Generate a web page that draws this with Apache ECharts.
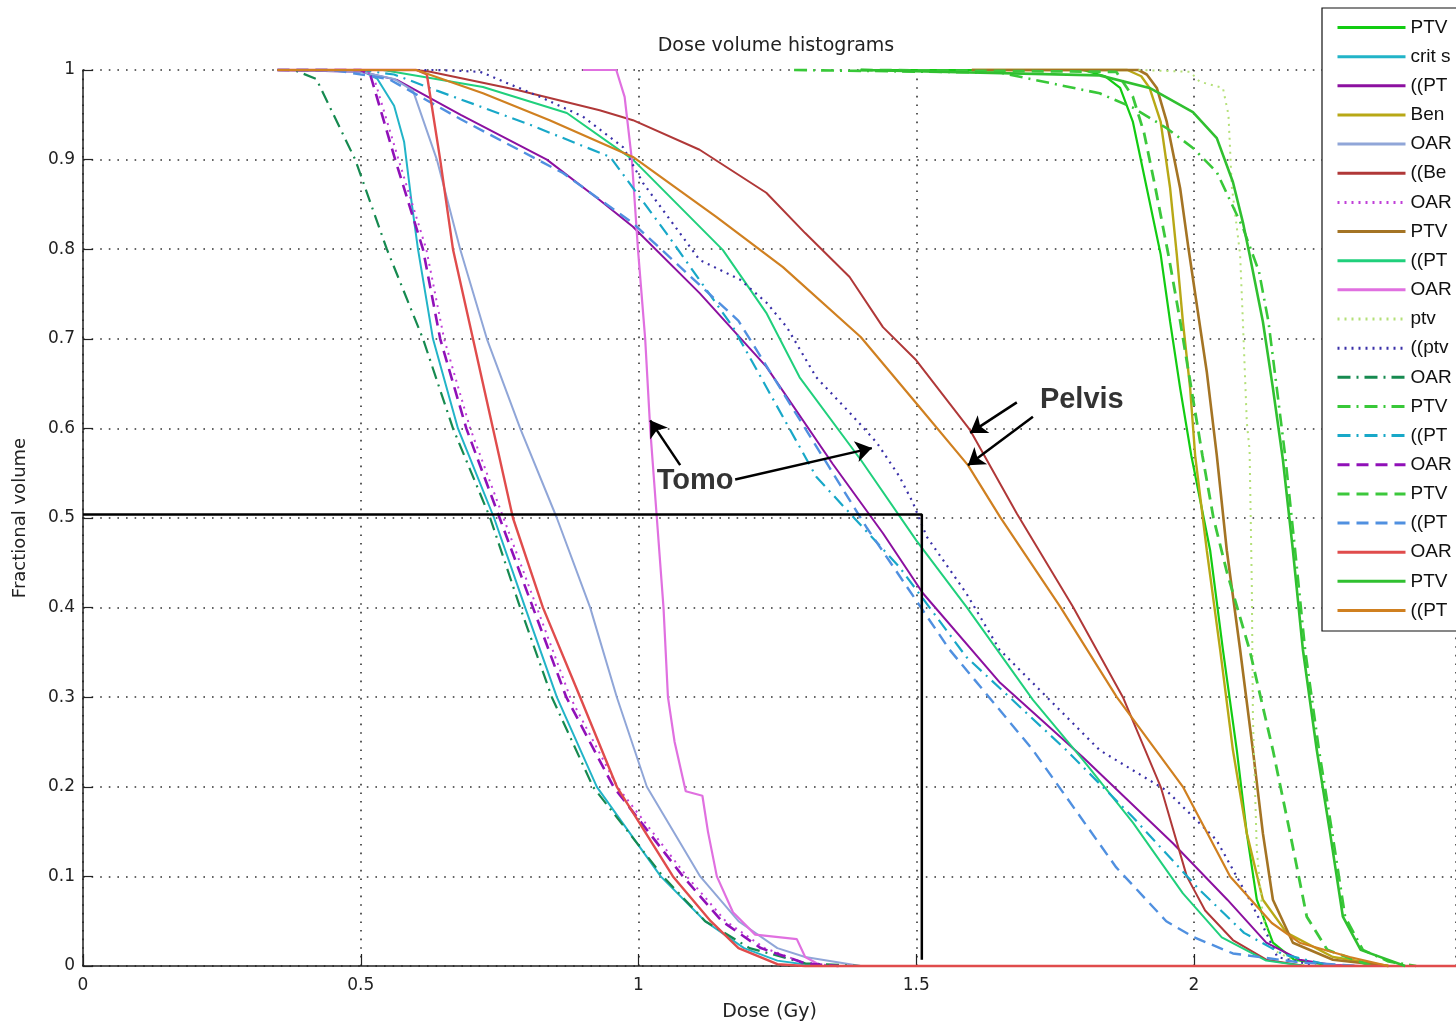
<!DOCTYPE html>
<html><head><meta charset="utf-8">
<script src="https://cdn.jsdelivr.net/npm/echarts@6/dist/echarts.min.js"></script>
<style>html,body{margin:0;padding:0;background:#fff}#c{width:1456px;height:1027px}</style>
</head><body><div id="c"></div>
<script>
// ---------- DATA ----------
const seriesNames = [
  'PTV Tomo', 'crit spinal cord', '((PTV)) Tomo', 'Ben Tomo', 'OAR 1', '((Ben)) Pelvis', 'OAR 2',
  'PTV Pelvis', '((PTV)) Pelvis', 'OAR 3', 'ptv', '((ptv Pelvis))', 'OAR 4', 'PTV 2',
  '((PTV 2))', 'OAR 5', 'PTV 3', '((PTV 3))', 'OAR 6', 'PTV 4', '((PTV 4))'
];
const xTicks = [0, 0.5, 1, 1.5, 2];
const xMax = 2.4716;
const yTicks = [0, 0.1, 0.2, 0.3, 0.4, 0.5, 0.6, 0.7, 0.8, 0.9, 1];

const s01 = [[1.40,1],[1.80,1],[1.84,0.993],[1.867,0.98],[1.89,0.942],[1.915,0.868],[1.94,0.794],[1.957,0.719],[1.975,0.645],[1.995,0.57],[2.029,0.464],[2.052,0.353],[2.077,0.241],[2.095,0.148],[2.113,0.074],[2.142,0.026],[2.18,0.007],[2.25,0]];
const s02 = [[0.35,1],[0.5,1],[0.53,0.99],[0.56,0.96],[0.578,0.92],[0.592,0.85],[0.603,0.8],[0.63,0.7],[0.675,0.6],[0.74,0.5],[0.796,0.4],[0.853,0.3],[0.925,0.2],[1.04,0.1],[1.12,0.05],[1.19,0.02],[1.25,0.006],[1.32,0]];
const s03 = [[0.35,1],[0.5,0.998],[0.565,0.989],[0.68,0.95],[0.835,0.9],[0.93,0.855],[0.99,0.825],[1.11,0.751],[1.23,0.669],[1.35,0.56],[1.44,0.483],[1.512,0.416],[1.651,0.316],[1.8,0.233],[1.962,0.137],[2.06,0.074],[2.13,0.026],[2.19,0.007],[2.25,0.001],[2.3,0]];
const s04 = [[1.6,1],[1.88,1],[1.905,0.993],[1.92,0.98],[1.94,0.942],[1.957,0.868],[1.969,0.794],[1.98,0.719],[1.993,0.645],[2.002,0.57],[2.023,0.464],[2.047,0.353],[2.07,0.241],[2.095,0.148],[2.124,0.074],[2.167,0.037],[2.25,0.01],[2.35,0]];
const s05 = [[0.35,1],[0.5,0.998],[0.56,0.99],[0.594,0.977],[0.637,0.9],[0.679,0.8],[0.727,0.7],[0.787,0.6],[0.853,0.5],[0.913,0.4],[0.961,0.3],[1.015,0.2],[1.111,0.1],[1.18,0.05],[1.25,0.02],[1.3,0.01],[1.4,0]];
const s06 = [[0.35,1],[0.6,1],[0.625,0.998],[0.78,0.978],[0.93,0.955],[0.99,0.944],[1.11,0.911],[1.23,0.863],[1.30,0.818],[1.38,0.769],[1.44,0.713],[1.5,0.676],[1.597,0.598],[1.681,0.505],[1.782,0.401],[1.872,0.3],[1.94,0.2],[1.987,0.1],[2.02,0.062],[2.07,0.029],[2.13,0.007],[2.2,0]];
const s07 = [[0.35,1],[0.5,1],[0.522,0.995],[0.568,0.9],[0.618,0.8],[0.65,0.7],[0.697,0.6],[0.757,0.5],[0.817,0.4],[0.877,0.3],[0.962,0.2],[1.087,0.1],[1.157,0.05],[1.227,0.02],[1.3,0.003],[1.36,0]];
const s08 = [[1.6,1],[1.9,1],[1.915,0.995],[1.933,0.98],[1.951,0.942],[1.975,0.868],[1.99,0.801],[2.005,0.738],[2.023,0.663],[2.041,0.57],[2.059,0.464],[2.083,0.353],[2.106,0.241],[2.124,0.148],[2.142,0.074],[2.178,0.026],[2.25,0.007],[2.35,0]];
const s09 = [[0.35,1],[0.54,1],[0.72,0.981],[0.871,0.952],[0.99,0.9],[1.152,0.799],[1.23,0.729],[1.29,0.657],[1.4,0.565],[1.5,0.475],[1.59,0.401],[1.71,0.297],[1.8,0.23],[1.89,0.16],[1.98,0.081],[2.05,0.032],[2.13,0.006],[2.2,0]];
const s10 = [[0.9,1],[0.96,1],[0.975,0.97],[0.988,0.9],[0.999,0.8],[1.012,0.7],[1.021,0.6],[1.033,0.5],[1.045,0.4],[1.053,0.3],[1.065,0.25],[1.085,0.195],[1.115,0.19],[1.125,0.15],[1.141,0.1],[1.17,0.06],[1.21,0.035],[1.285,0.03],[1.3,0.01],[1.33,0]];
const s11 = [[1.9,1],[1.993,0.998],[2.01,0.987],[2.052,0.98],[2.062,0.95],[2.068,0.87],[2.083,0.794],[2.088,0.719],[2.095,0.607],[2.1,0.576],[2.104,0.427],[2.106,0.278],[2.113,0.13],[2.124,0.055],[2.142,0.018],[2.2,0]];
const s12 = [[0.35,1],[0.637,1],[0.715,0.998],[0.823,0.97],[0.9,0.948],[0.972,0.914],[1.008,0.874],[1.11,0.788],[1.183,0.766],[1.231,0.74],[1.267,0.713],[1.32,0.657],[1.381,0.617],[1.429,0.584],[1.47,0.546],[1.494,0.517],[1.519,0.479],[1.59,0.416],[1.65,0.353],[1.74,0.297],[1.83,0.241],[1.95,0.196],[2.04,0.141],[2.1,0.074],[2.13,0.037],[2.15,0.01],[2.22,0]];
const s13 = [[0.35,1],[0.38,1],[0.42,0.99],[0.49,0.9],[0.547,0.8],[0.612,0.7],[0.666,0.6],[0.733,0.5],[0.787,0.4],[0.844,0.3],[0.918,0.2],[1.044,0.1],[1.12,0.05],[1.2,0.02],[1.3,0.003],[1.4,0]];
const s14 = [[1.28,1],[1.651,0.997],[1.83,0.974],[1.89,0.958],[1.951,0.935],[1.998,0.913],[2.041,0.886],[2.088,0.824],[2.117,0.775],[2.134,0.719],[2.149,0.645],[2.164,0.57],[2.182,0.464],[2.2,0.353],[2.225,0.241],[2.249,0.148],[2.272,0.055],[2.304,0.018],[2.35,0.005],[2.4,0]];
const s15 = [[0.35,1],[0.5,1],[0.56,0.995],[0.637,0.977],[0.8,0.94],[0.949,0.903],[1.05,0.818],[1.17,0.713],[1.32,0.546],[1.47,0.445],[1.59,0.345],[1.77,0.241],[1.89,0.166],[2.01,0.085],[2.09,0.037],[2.16,0.013],[2.25,0]];
const s16 = [[0.35,1],[0.5,1],[0.517,0.995],[0.562,0.9],[0.612,0.8],[0.643,0.7],[0.69,0.6],[0.75,0.5],[0.81,0.4],[0.87,0.3],[0.955,0.2],[1.08,0.1],[1.15,0.05],[1.22,0.02],[1.3,0.003],[1.36,0]];
const s17 = [[1.4,1],[1.86,0.998],[1.89,0.97],[1.91,0.93],[1.93,0.87],[1.955,0.79],[1.975,0.72],[1.995,0.645],[2.015,0.57],[2.035,0.5],[2.059,0.44],[2.1,0.353],[2.142,0.241],[2.173,0.148],[2.203,0.055],[2.24,0.018],[2.32,0]];
const s18 = [[0.35,1],[0.45,1],[0.55,0.99],[0.68,0.945],[0.864,0.885],[0.99,0.829],[1.18,0.72],[1.32,0.58],[1.41,0.49],[1.56,0.353],[1.71,0.241],[1.86,0.11],[1.95,0.05],[2.0,0.032],[2.07,0.014],[2.19,0.004],[2.3,0]];
const s19 = [[0.35,1],[0.6,1],[0.619,0.995],[0.643,0.9],[0.666,0.8],[0.702,0.7],[0.738,0.6],[0.774,0.5],[0.828,0.4],[0.895,0.3],[0.961,0.2],[1.062,0.1],[1.13,0.05],[1.18,0.02],[1.25,0.002],[1.3,0],[2.5,0]];
const s20 = [[1.4,1],[1.83,0.994],[1.92,0.98],[1.998,0.953],[2.041,0.924],[2.07,0.875],[2.088,0.83],[2.1,0.794],[2.124,0.719],[2.142,0.645],[2.16,0.565],[2.178,0.464],[2.196,0.353],[2.221,0.241],[2.245,0.148],[2.268,0.055],[2.3,0.018],[2.38,0]];
const s21 = [[0.35,1],[0.6,1],[0.72,0.974],[0.84,0.944],[0.99,0.903],[1.14,0.836],[1.26,0.78],[1.4,0.702],[1.5,0.628],[1.593,0.559],[1.651,0.501],[1.759,0.401],[1.861,0.3],[1.98,0.2],[2.065,0.1],[2.14,0.048],[2.19,0.026],[2.28,0.01],[2.35,0]];
const seriesData = [s01,s02,s03,s04,s05,s06,s07,s08,s09,s10,s11,s12,s13,s14,s15,s16,s17,s18,s19,s20,s21];

// annotation geometry (data coords)
const guideLine = [[0,0.504],[1.51,0.504],[1.51,0.007]];
const arrows = [
  [[1.075,0.559],[1.021,0.609]],
  [[1.174,0.543],[1.42,0.578]],
  [[1.681,0.629],[1.597,0.595]],
  [[1.71,0.613],[1.593,0.559]]
];
const annotTexts = [[1.102,0.541,'Tomo'],[1.798,0.632,'Pelvis']];

// ---------- STYLE ----------
const DOT = [2,5], DASHDOT = [13,6,2,6], DASH = [12,7];
const styles = [
  {c:'#12cc12', t:'solid', w:2.2},
  {c:'#22b4c8', t:'solid', w:2},
  {c:'#8c10a0', t:'solid', w:2},
  {c:'#b8a816', t:'solid', w:2.4},
  {c:'#90a6d8', t:'solid', w:2},
  {c:'#b03838', t:'solid', w:2},
  {c:'#c040d8', t:DOT, w:2},
  {c:'#a47424', t:'solid', w:2.6},
  {c:'#20d07c', t:'solid', w:2},
  {c:'#e070e0', t:'solid', w:2.2},
  {c:'#b4e078', t:DOT, w:2},
  {c:'#3a30a8', t:DOT, w:2.2},
  {c:'#168a50', t:DASHDOT, w:2.2},
  {c:'#38c838', t:DASHDOT, w:2.6},
  {c:'#18a8c8', t:DASHDOT, w:2.2},
  {c:'#9010b8', t:DASH, w:2.6},
  {c:'#3cc83c', t:DASH, w:2.8},
  {c:'#5090e0', t:DASH, w:2.4},
  {c:'#e04c4c', t:'solid', w:2.4},
  {c:'#30c030', t:'solid', w:2.6},
  {c:'#d08020', t:'solid', w:2.2}
];
const FONT = '"DejaVu Sans", Verdana, sans-serif';
const LFONT = '"Liberation Sans", Arial, sans-serif';

const series = seriesData.map((d, i) => ({
  name: seriesNames[i], type: 'line', data: d, symbol: 'none', showSymbol: false,
  clip: false, silent: true,
  lineStyle: {color: styles[i].c, type: styles[i].t, width: styles[i].w},
  itemStyle: {color: styles[i].c}
}));
series.push({
  name: '_guide', type: 'line', data: guideLine, symbol: 'none', clip: false, silent: true, z: 10,
  lineStyle: {color: '#000', width: 2.5, type: 'solid'},
  markLine: {
    silent: true, symbol: ['none','arrow'], symbolSize: 16, animation: false,
    lineStyle: {color: '#000', width: 2.5, type: 'solid'}, label: {show: false},
    data: arrows.map(a => [{coord: a[0]}, {coord: a[1]}])
  }
});
series.push({
  name: '_text', type: 'scatter', data: annotTexts, symbolSize: 1, silent: true, z: 12,
  itemStyle: {color: 'rgba(0,0,0,0)'},
  label: {show: true, position: 'inside', formatter: p => p.data[2],
    color: '#000', fontWeight: 'bold', fontSize: 29, fontFamily: LFONT}
});

const chart = echarts.init(document.getElementById('c'), null, {renderer: 'canvas'});
chart.setOption({
  animation: false,
  backgroundColor: '#fff',
  grid: {left: 83, top: 70, bottom: 61, right: 0, containLabel: false},
  graphic: [{type: 'text', x: 776, y: 46, z: 20,
    style: {text: 'Dose volume histograms', font: '19px ' + FONT, fill: '#222', align: 'center', verticalAlign: 'middle'}}],
  xAxis: {
    type: 'value', min: xTicks[0], max: xMax, interval: 0.5,
    name: 'Dose (Gy)', nameLocation: 'middle', nameGap: 37,
    nameTextStyle: {fontSize: 19, color: '#222', fontFamily: FONT},
    axisLine: {show: true, onZero: false, lineStyle: {color: '#222', width: 1.5}},
    axisTick: {show: true, inside: true, length: 12, lineStyle: {color: '#222', width: 1.2}},
    axisLabel: {color: '#222', fontSize: 17, fontFamily: FONT, margin: 11, showMaxLabel: false,
      formatter: v => String(+v.toFixed(1))},
    splitLine: {show: true, lineStyle: {type: [1.6, 7], color: '#333', width: 1.6}}
  },
  yAxis: {
    type: 'value', min: yTicks[0], max: yTicks[yTicks.length-1], interval: 0.1,
    name: 'Fractional volume', nameLocation: 'middle', nameGap: 54, nameRotate: 90,
    nameTextStyle: {fontSize: 18, color: '#222', fontFamily: FONT},
    axisLine: {show: true, onZero: false, lineStyle: {color: '#222', width: 1.5}},
    axisTick: {show: true, inside: true, length: 10, lineStyle: {color: '#222', width: 1.2}},
    axisLabel: {color: '#222', fontSize: 17, fontFamily: FONT, margin: 8,
      formatter: v => (v === 0 ? '0' : (Math.abs(v-1) < 1e-9 ? '1' : v.toFixed(1)))},
    splitLine: {show: true, lineStyle: {type: [1.6, 7], color: '#333', width: 1.6}}
  },
  legend: {
    data: seriesNames, orient: 'vertical', left: 1322, top: 8,
    padding: [10, 24, 11, 14], itemWidth: 68, itemHeight: 14, itemGap: 10.15, itemTextGap: 6,
    borderColor: '#111', borderWidth: 1.2, backgroundColor: '#fff', selectedMode: false,
    itemStyle: {opacity: 0, borderWidth: 0},
    lineStyle: {width: 3},
    textStyle: {fontSize: 19, color: '#111', fontFamily: LFONT, width: 46, overflow: 'truncate', ellipsis: ''}
  },
  series: series
});
</script>
</body></html>
